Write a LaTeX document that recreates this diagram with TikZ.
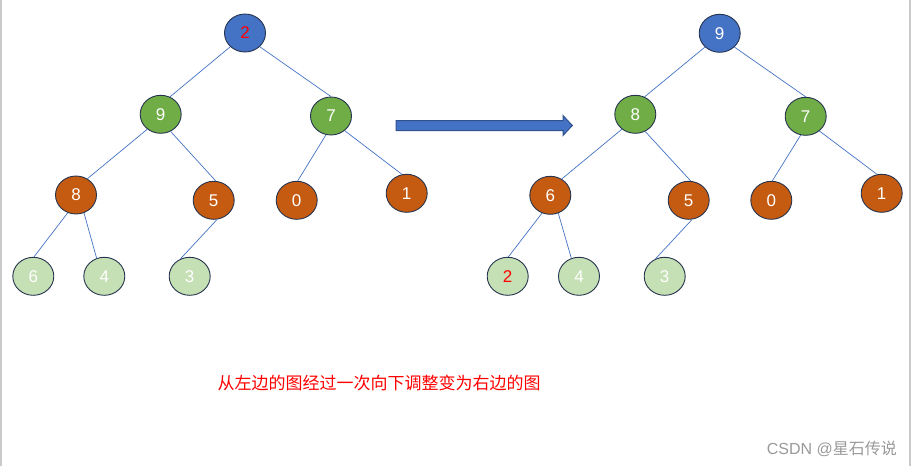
\documentclass[tikz,border=0pt]{standalone}
\usepackage{fontspec}
\setmainfont{Liberation Sans}
\newfontfamily\cjk{Noto Sans CJK SC}
\usetikzlibrary{shapes.geometric}
\definecolor{nblue}{HTML}{4472C4}
\definecolor{ngreen}{HTML}{70AD47}
\definecolor{norange}{HTML}{C55A11}
\definecolor{nlight}{HTML}{C5E0B4}
\definecolor{nline}{HTML}{26344F}
\definecolor{edgeblue}{HTML}{4472C4}
\definecolor{arrowedge}{HTML}{2F528F}
\definecolor{bordergray}{HTML}{CACACA}
\tikzset{
  hnode/.style={ellipse, draw=nline, line width=0.9pt, minimum width=41pt, minimum height=38pt, inner sep=0pt, text=white, font=\fontsize{17}{20}\selectfont},
  rootn/.style={hnode, fill=nblue},
  lvlone/.style={hnode, fill=ngreen},
  lvltwo/.style={hnode, fill=norange},
  leafn/.style={hnode, fill=nlight},
  hedge/.style={draw=edgeblue, line width=0.7pt},
}
\begin{document}
\begin{tikzpicture}[x=1pt,y=-1pt]
\useasboundingbox (0,0) rectangle (911,466);
\draw[bordergray, line width=1.5pt] (1,0) -- (1,466);
\draw[bordergray, line width=1.5pt] (910,0) -- (910,466);
% left tree
\node[rootn, text=red] (a2) at (245,33) {2};
\node[lvlone] (a9) at (160.7,114.3) {9};
\node[lvlone] (a7) at (331,116) {7};
\node[lvltwo] (a8) at (76,195) {8};
\node[lvltwo] (a5) at (213.7,200.3) {5};
\node[lvltwo] (a0) at (296.7,200.3) {0};
\node[lvltwo] (a1) at (406.7,193.3) {1};
\node[leafn] (a6) at (33.3,276.3) {6};
\node[leafn] (a4) at (104.3,276.3) {4};
\node[leafn] (a3) at (189.7,276.3) {3};
\draw[hedge] (a2.-137) -- (a9.62);
\draw[hedge] (a2.-43) -- (a7.90);
\draw[hedge] (a9.-132) -- (a8.55);
\draw[hedge] (a9.-60) -- (a5.84);
\draw[hedge] (a7.-105) -- (a0.87);
\draw[hedge] (a7.-47) -- (a1.104);
\draw[hedge] (a8.-115) -- (a6.88);
\draw[hedge] (a8.-66) -- (a4.113);
\draw[hedge] (a5.-80) -- (a3.118);
% right tree
\node[rootn] (b9) at (719.7,33.3) {9};
\node[lvlone] (b8) at (635.3,114.3) {8};
\node[lvlone] (b7) at (805.7,116.3) {7};
\node[lvltwo] (b6) at (550.3,195.3) {6};
\node[lvltwo] (b5) at (688.7,200.3) {5};
\node[lvltwo] (b0) at (771.3,200.3) {0};
\node[lvltwo] (b1) at (881.7,193.3) {1};
\node[leafn, text=red] (b2) at (507.7,276.3) {2};
\node[leafn] (b4) at (579,276.3) {4};
\node[leafn] (b3) at (664.7,276.3) {3};
\draw[hedge] (b9.-137) -- (b8.62);
\draw[hedge] (b9.-43) -- (b7.90);
\draw[hedge] (b8.-132) -- (b6.55);
\draw[hedge] (b8.-60) -- (b5.84);
\draw[hedge] (b7.-105) -- (b0.87);
\draw[hedge] (b7.-47) -- (b1.104);
\draw[hedge] (b6.-115) -- (b2.88);
\draw[hedge] (b6.-66) -- (b4.113);
\draw[hedge] (b5.-80) -- (b3.118);
% arrow
\draw[fill=nblue, draw=arrowedge, line width=1pt, line join=miter]
  (396,120.5) -- (563,120.5) -- (563,115.5) -- (572.3,125.5) -- (563,135.5) -- (563,130.5) -- (396,130.5) -- cycle;
% caption
\node[text=red, font=\cjk\fontsize{17}{20}\selectfont, inner sep=0pt] (cap) at (379,383) {从左边的图经过一次向下调整变为右边的图};
\node[text=black!40, font=\fontsize{16}{19}\selectfont, inner sep=0pt, anchor=east] (wm) at (897,449) {CSDN @{\cjk 星石传说}};
\end{tikzpicture}
\end{document}
